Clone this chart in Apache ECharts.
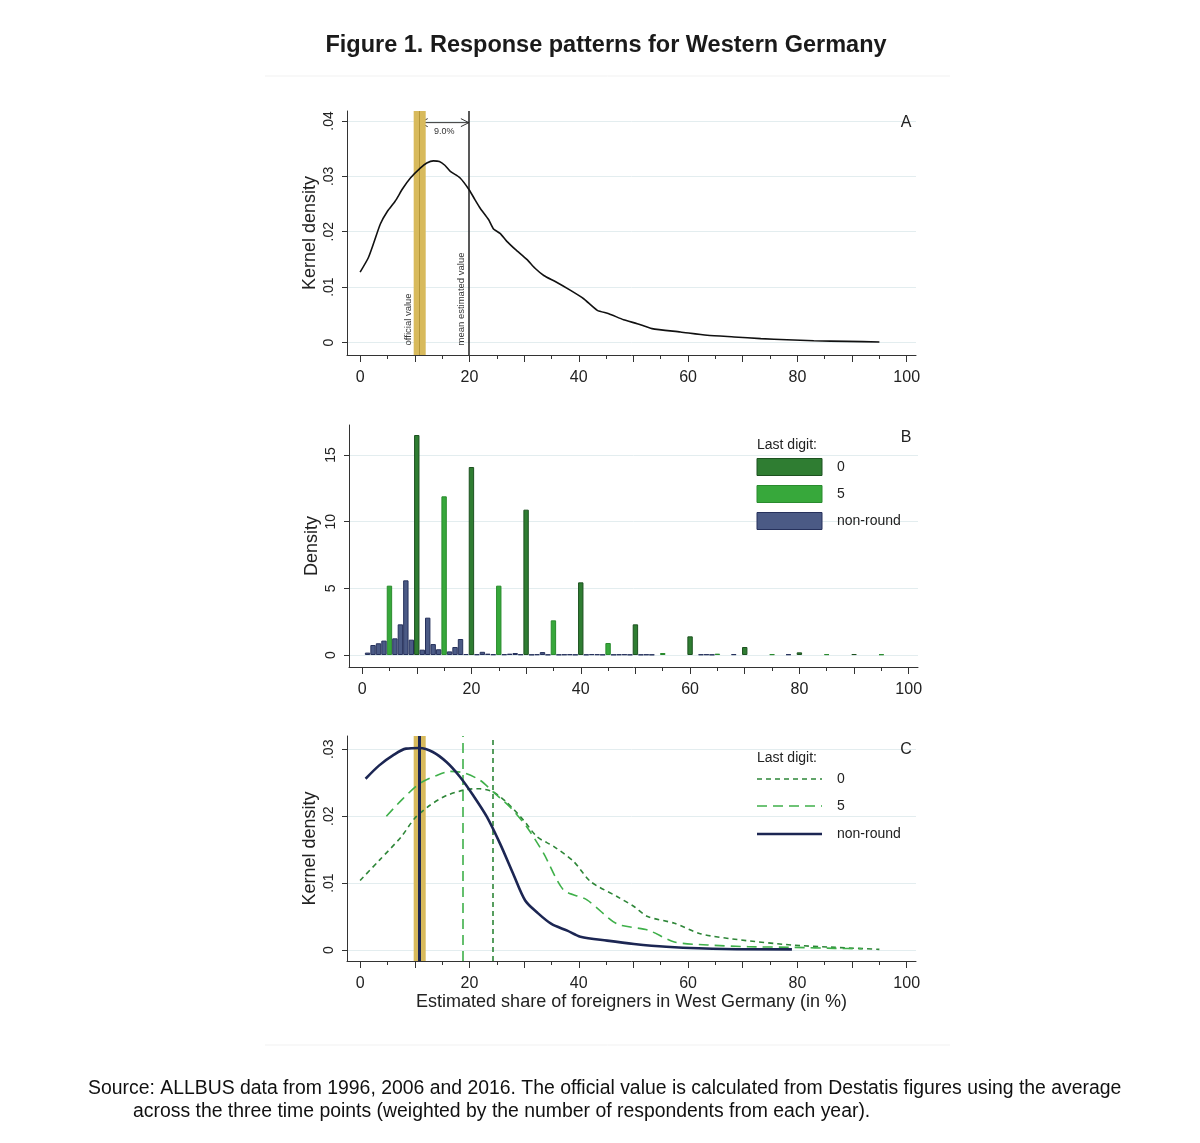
<!DOCTYPE html>
<html><head><meta charset="utf-8">
<script src="https://cdn.jsdelivr.net/npm/echarts@6/dist/echarts.min.js"></script>
<style>html,body{margin:0;padding:0;background:#fff}#c{width:1200px;height:1143px}</style>
</head><body><div id="c"></div>
<script>
// ---------- DATA ----------
const xTickLabels = [0, 20, 40, 60, 80, 100];
const xMajorTicks = [0, 10, 20, 30, 40, 50, 60, 70, 80, 90, 100];
const xMinorTicks = [5, 15, 25, 35, 45, 55, 65, 75, 85, 95];
const yTicksA = [0, 0.01, 0.02, 0.03, 0.04];
const yTicksB = [0, 5, 10, 15];
const yTicksC = [0, 0.01, 0.02, 0.03];

// Panel A: kernel density of all estimates
const kdeAll = [[0,0.0127],[1.5,0.0153],[2.5,0.0180],[3.7,0.0214],[5,0.0237],[6.4,0.0255],[7.8,0.0278],[9.2,0.0297],[11,0.0315],[12.2,0.0324],[13.4,0.0328],[14.5,0.0327],[15.5,0.0320],[16.5,0.0309],[18.3,0.0297],[20,0.0275],[21,0.0258],[22,0.0242],[23.5,0.0222],[24.4,0.0205],[25.6,0.0197],[26.8,0.0183],[28.4,0.0168],[30.5,0.0150],[32,0.0134],[33.6,0.0121],[35.7,0.0110],[38.5,0.0094],[40.9,0.0079],[43.4,0.0058],[45.5,0.0052],[48.2,0.0041],[50.7,0.0034],[53.4,0.0025],[58.6,0.0019],[63.5,0.0013],[68.4,0.0010],[73.3,0.0007],[78.1,0.0005],[83,0.0003],[89.1,0.0002],[95,0.0001]];
const officialValue = 10.9;
const officialBand = [9.8, 12.0];
const meanEstimate = 19.9;
const diffLabel = '9.0%';

// Panel B: histogram by last digit
const barsRound0 = [[10,16.5],[20,14.1],[30,10.9],[40,5.45],[50,2.3],[60,1.4],[70,0.6],[80,0.2],[90,0.07]];
const barsRound5 = [[5,5.2],[15,11.9],[25,5.2],[35,2.6],[45,0.9],[55,0.15],[65,0.1],[75,0.06],[85,0.06],[95,0.05]];
const barsNonRound = [[1,0.18],[2,0.75],[3,0.88],[4,1.08],[6,1.25],[7,2.3],[8,5.6],[9,1.15],[11,0.4],[12,2.8],[13,0.82],[14,0.43],[16,0.27],[17,0.6],[18,1.2],[19,0.07],[21,0.05],[22,0.24],[23,0.1],[24,0.05],[26,0.05],[27,0.1],[28,0.15],[29,0.05],[31,0.03],[32,0.05],[33,0.22],[34,0.03],[36,0.03],[37,0.04],[38,0.05],[39,0.03],[41,0.03],[42,0.06],[43,0.05],[44,0.03],[46,0.03],[47,0.04],[48,0.05],[49,0.03],[51,0.03],[52,0.04],[53,0.03],[62,0.04],[63,0.05],[64,0.03],[68,0.06],[78,0.05]];

// Panel C: kernel densities by last digit
const kdeRound0 = [[0,0.0104],[3.5,0.0134],[7.5,0.0169],[10,0.0197],[12.7,0.0216],[15.8,0.0231],[19.5,0.0240],[21.9,0.0241],[24.4,0.0236],[26.8,0.0221],[29.9,0.0194],[32.4,0.0169],[35.4,0.0155],[39.1,0.0132],[42.2,0.0102],[47,0.0080],[50.1,0.0065],[52.6,0.0050],[57.5,0.0040],[62.4,0.0024],[69.7,0.0015],[78.9,0.00075],[86.9,0.0004],[95,0.0001]];
const kdeRound5 = [[4.8,0.0200],[7.8,0.0226],[10.9,0.0249],[14,0.0261],[16.4,0.0267],[18.9,0.0265],[21.9,0.0254],[24.4,0.0236],[27.4,0.0214],[30.5,0.0184],[33.6,0.0144],[37.2,0.0090],[41.5,0.0075],[47,0.0039],[52.6,0.0030],[57.5,0.0012],[63.6,0.00075],[71,0.0005],[79.5,0.0004],[86.9,0.00025],[91.8,0.0002]];
const kdeNonRound = [[1,0.0256],[3.5,0.0276],[6,0.0291],[8.4,0.0301],[10.9,0.0302],[13.3,0.0296],[15.8,0.0281],[18.25,0.0259],[20.7,0.0231],[23.2,0.0199],[25.6,0.0159],[28,0.0114],[30.2,0.0074],[32.4,0.0056],[35,0.0039],[37.9,0.0029],[40.3,0.0020],[45.2,0.0014],[50.1,0.0009],[56,0.0005],[66.7,0.00015],[79,0.0001]];
const meanRound5 = 18.8;
const meanRound0 = 24.3;

const legendTitle = 'Last digit:';
const legendNames = ['0', '5', 'non-round'];

// ---------- STYLE ----------
const FF = '"Liberation Sans", Arial, Helvetica, sans-serif';
const AX = '#333';
const GRIDC = '#e3edef';
const GOLD = '#d8ba5c';
const DKGREEN = '#2f7d32', DKGREEN_B = '#1d5220';
const LTGREEN = '#37a83b', LTGREEN_B = '#2a8b2e';
const NAVY = '#4b5a85', NAVY_B = '#26315c';
const NAVYLINE = '#1c2653';
const C0 = '#2e8638', C5 = '#3fb04a';
const X_MIN = -2.4, X_MAX = 101.7;

const chart = echarts.init(document.getElementById('c'), null, {renderer: 'canvas'});

function xAxes(g, name) {
  return [{
    type: 'value', gridIndex: g, min: X_MIN, max: X_MAX, position: 'bottom',
    axisLine: {show: true, onZero: false, lineStyle: {color: AX, width: 1}},
    axisTick: {show: true, length: 7, customValues: xMajorTicks, lineStyle: {color: AX}},
    axisLabel: {customValues: xTickLabels, margin: 15, fontSize: 16, color: '#222', fontFamily: FF},
    splitLine: {show: false},
    name: name || '', nameLocation: 'middle', nameGap: 29,
    nameTextStyle: {fontSize: 18, color: '#222', fontFamily: FF}
  }, {
    type: 'value', gridIndex: g, min: X_MIN, max: X_MAX, position: 'bottom',
    axisLine: {show: false, onZero: false},
    axisTick: {show: true, length: 4, customValues: xMinorTicks, lineStyle: {color: AX}},
    axisLabel: {show: false}, splitLine: {show: false}
  }];
}
function fmtDec(v) { if (Math.abs(v) < 1e-9) return '0'; return (Math.round(v * 100) / 100).toString().replace(/^0\./, '.'); }
function yAxis(g, min, max, ticks, name, fmt) {
  return {
    type: 'value', gridIndex: g, min: min, max: max,
    axisLine: {show: true, onZero: false, lineStyle: {color: AX, width: 1}},
    axisTick: {show: true, length: 5, customValues: ticks, lineStyle: {color: AX}},
    axisLabel: {customValues: ticks, rotate: 90, margin: 11, fontSize: 14, color: '#222', fontFamily: FF, formatter: fmt},
    splitLine: {show: true, lineStyle: {color: GRIDC, width: 1}},
    name: name, nameLocation: 'middle', nameGap: 28, nameRotate: 90,
    nameTextStyle: {fontSize: 18, color: '#222', fontFamily: FF}
  };
}

const option = {
  animation: false,
  backgroundColor: '#fff',
  grid: [
    {left: 347, width: 569, top: 111, height: 244},
    {left: 349, width: 569, top: 425, height: 242},
    {left: 347, width: 569, top: 736, height: 225}
  ],
  xAxis: [].concat(xAxes(0), xAxes(1), xAxes(2, 'Estimated share of foreigners in West Germany (in %)')),
  yAxis: [
    yAxis(0, -0.00226, 0.0418, yTicksA, 'Kernel density', fmtDec),
    yAxis(1, -0.9, 17.25, yTicksB, 'Density', v => String(v)),
    yAxis(2, -0.00164, 0.03199, yTicksC, 'Kernel density', fmtDec)
  ],
  series: [
    // Panel A
    {
      type: 'line', xAxisIndex: 0, yAxisIndex: 0, data: kdeAll, showSymbol: false, smooth: 0.2,
      lineStyle: {color: '#111', width: 1.6}, z: 5,
      markArea: {silent: true, itemStyle: {color: GOLD}, data: [[{xAxis: officialBand[0]}, {xAxis: officialBand[1]}]]},
      markLine: {silent: true, symbol: 'none', label: {show: false}, animation: false,
        data: [
          {xAxis: officialValue, lineStyle: {color: '#b49639', width: 1, type: 'solid'}},
          {xAxis: meanEstimate, lineStyle: {color: '#222', width: 1.5, type: 'solid'}}
        ]}
    },
    // Panel B
    {type: 'bar', name: '0', xAxisIndex: 2, yAxisIndex: 1, data: barsRound0, barWidth: 5.4, barGap: '-100%',
      itemStyle: {color: DKGREEN, borderColor: DKGREEN_B, borderWidth: 1}},
    {type: 'bar', name: '5', xAxisIndex: 2, yAxisIndex: 1, data: barsRound5, barWidth: 5.4, barGap: '-100%',
      itemStyle: {color: LTGREEN, borderColor: LTGREEN_B, borderWidth: 1}},
    {type: 'bar', name: 'non-round', xAxisIndex: 2, yAxisIndex: 1, data: barsNonRound, barWidth: 5.4, barGap: '-100%',
      itemStyle: {color: NAVY, borderColor: NAVY_B, borderWidth: 1}},
    // Panel C
    {type: 'line', name: '0', xAxisIndex: 4, yAxisIndex: 2, data: kdeRound0, showSymbol: false, smooth: 0.25,
      lineStyle: {color: C0, width: 1.6, type: [5, 4]}, z: 4,
      markArea: {silent: true, itemStyle: {color: GOLD}, data: [[{xAxis: officialBand[0]}, {xAxis: officialBand[1]}]]},
      markLine: {silent: true, symbol: 'none', label: {show: false},
        data: [{xAxis: meanRound0, lineStyle: {color: C0, width: 1.6, type: [5, 4]}}]}},
    {type: 'line', name: '5', xAxisIndex: 4, yAxisIndex: 2, data: kdeRound5, showSymbol: false, smooth: 0.25,
      lineStyle: {color: C5, width: 1.6, type: [10, 6]}, z: 4,
      markLine: {silent: true, symbol: 'none', label: {show: false},
        data: [{xAxis: meanRound5, lineStyle: {color: C5, width: 1.6, type: [10, 6]}}]}},
    {type: 'line', name: 'non-round', xAxisIndex: 4, yAxisIndex: 2, data: kdeNonRound, showSymbol: false, smooth: 0.3,
      lineStyle: {color: NAVYLINE, width: 2.6}, z: 5,
      markLine: {silent: true, symbol: 'none', label: {show: false},
        data: [{xAxis: officialValue, lineStyle: {color: NAVYLINE, width: 3, type: 'solid'}}]}}
  ]
};
chart.setOption(option);

// ---------- annotations (positions through the chart's own scales) ----------
const pA = p => chart.convertToPixel({seriesIndex: 0}, p);
const yArrow = 0.0397;
const a0 = pA([officialValue, yArrow]), a1 = pA([meanEstimate, yArrow]);
const arrowStyle = {stroke: '#333', lineWidth: 1};
const g = [];
g.push({type: 'polyline', shape: {points: [a0, a1]}, style: arrowStyle, silent: true});
g.push({type: 'polyline', shape: {points: [[a0[0] + 8, a0[1] - 4], a0, [a0[0] + 8, a0[1] + 4]]}, style: Object.assign({fill: null}, arrowStyle), silent: true});
g.push({type: 'polyline', shape: {points: [[a1[0] - 8, a1[1] - 4], a1, [a1[0] - 8, a1[1] + 4]]}, style: Object.assign({fill: null}, arrowStyle), silent: true});
const lbl = pA([(officialValue + meanEstimate) / 2, yArrow]);
g.push({type: 'text', x: lbl[0], y: lbl[1] + 9, style: {text: diffLabel, font: '9px ' + FF, fill: '#333', align: 'center', verticalAlign: 'middle'}, silent: true});
const ov = pA([officialValue - 2.1, 0]);
g.push({type: 'text', x: ov[0], y: ov[1] + 3, rotation: Math.PI / 2, style: {text: 'official value', font: '9.5px ' + FF, fill: '#333', align: 'left', verticalAlign: 'middle'}, silent: true});
const mv = pA([meanEstimate - 1.4, 0]);
g.push({type: 'text', x: mv[0], y: mv[1] + 3, rotation: Math.PI / 2, style: {text: 'mean estimated value', font: '9.5px ' + FF, fill: '#333', align: 'left', verticalAlign: 'middle'}, silent: true});

// Title, panel letters, footer
g.push({type: 'text', x: 606, y: 46, style: {text: 'Figure 1. Response patterns for Western Germany', font: 'bold 23.5px ' + FF, fill: '#1a1a1a', align: 'center', verticalAlign: 'middle'}});
g.push({type: 'line', shape: {x1: 265, y1: 76, x2: 950, y2: 76}, style: {stroke: '#f1f1f1', lineWidth: 1}});
g.push({type: 'line', shape: {x1: 265, y1: 1045, x2: 950, y2: 1045}, style: {stroke: '#f1f1f1', lineWidth: 1}});
[['A', 123], ['B', 438], ['C', 750]].forEach(([t, y]) => g.push({type: 'text', x: 906, y: y, style: {text: t, font: '16px ' + FF, fill: '#222', align: 'center', verticalAlign: 'middle'}}));
g.push({type: 'text', x: 88, y: 1089, style: {text: 'Source: ALLBUS data from 1996, 2006 and 2016. The official value is calculated from Destatis figures using the average', font: '19.4px ' + FF, fill: '#111', align: 'left', verticalAlign: 'middle'}});
g.push({type: 'text', x: 133, y: 1112, style: {text: 'across the three time points (weighted by the number of respondents from each year).', font: '19.4px ' + FF, fill: '#111', align: 'left', verticalAlign: 'middle'}});

// Legend B
g.push({type: 'text', x: 757, y: 445, style: {text: legendTitle, font: '14px ' + FF, fill: '#222', align: 'left', verticalAlign: 'middle'}});
[[DKGREEN, DKGREEN_B, 467], [LTGREEN, LTGREEN_B, 494], [NAVY, NAVY_B, 521]].forEach(([f, b, y], i) => {
  g.push({type: 'rect', shape: {x: 757, y: y - 8.5, width: 65, height: 17}, style: {fill: f, stroke: b, lineWidth: 1}});
  g.push({type: 'text', x: 837, y: y, style: {text: legendNames[i], font: '14px ' + FF, fill: '#222', align: 'left', verticalAlign: 'middle'}});
});
// Legend C
g.push({type: 'text', x: 757, y: 758, style: {text: legendTitle, font: '14px ' + FF, fill: '#222', align: 'left', verticalAlign: 'middle'}});
[[C0, [5, 4], 1.6, 779], [C5, [10, 6], 1.6, 806], [NAVYLINE, null, 2.6, 834]].forEach(([c, d, w, y], i) => {
  g.push({type: 'line', shape: {x1: 757, y1: y, x2: 822, y2: y}, style: {stroke: c, lineWidth: w, lineDash: d}});
  g.push({type: 'text', x: 837, y: y, style: {text: legendNames[i], font: '14px ' + FF, fill: '#222', align: 'left', verticalAlign: 'middle'}});
});
chart.setOption({graphic: g});
</script></body></html>
